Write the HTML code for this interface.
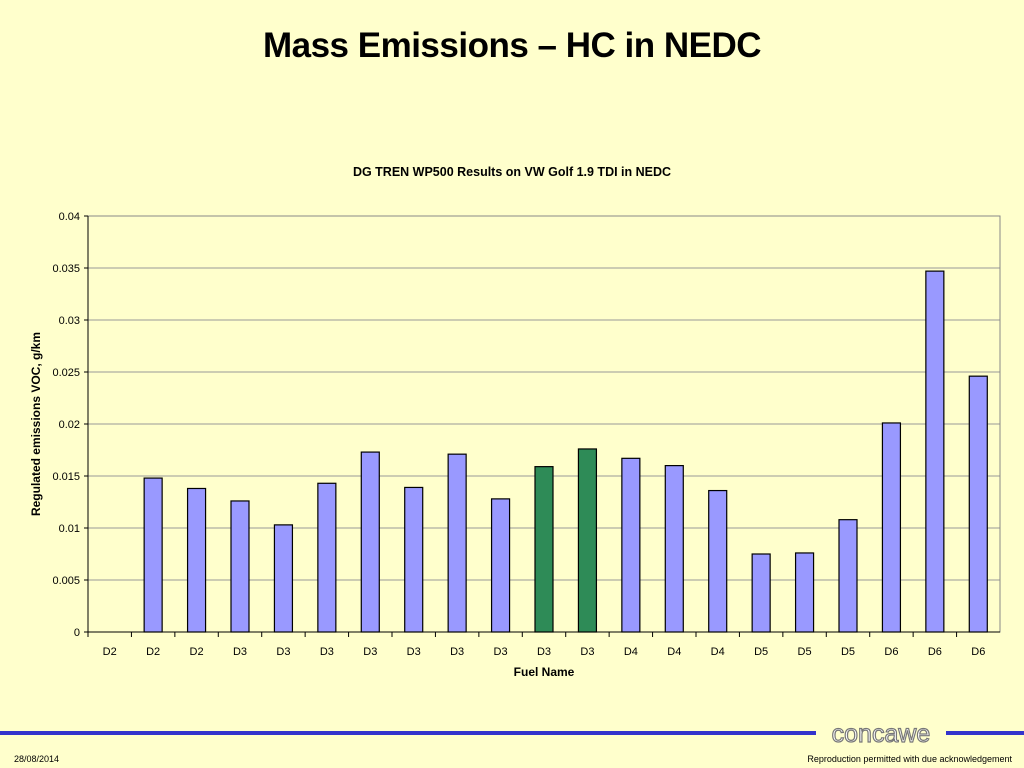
<!DOCTYPE html>
<html><head><meta charset="utf-8"><style>
body{margin:0;width:1024px;height:768px;background:#FFFFCC;overflow:hidden;font-family:"Liberation Sans",Arial,sans-serif;position:relative}
.t{position:absolute;white-space:nowrap}
</style></head><body>
<div class="t" style="left:0;width:1024px;top:26px;text-align:center;font-size:35px;font-weight:bold;letter-spacing:-0.5px">Mass Emissions – HC in NEDC</div>
<svg width="1024" height="768" style="position:absolute;left:0;top:0">
<text x="512" y="176" text-anchor="middle" font-size="12.5" font-weight="bold">DG TREN WP500 Results on VW Golf 1.9 TDI in NEDC</text>
<g id="grid"></g><g id="bars"></g><g id="axes"></g>
<text transform="translate(40,424) rotate(-90)" text-anchor="middle" font-size="12" font-weight="bold">Regulated emissions VOC, g/km</text>
<text x="544" y="676" text-anchor="middle" font-size="12" font-weight="bold">Fuel Name</text>
<rect x="0" y="731" width="1024" height="4" fill="#3333CC"/>
<rect x="816" y="720" width="130" height="24" fill="#FFFFCC"/>
<text x="881" y="742" text-anchor="middle" font-size="25" fill="#fff" stroke="#777" stroke-width="1.2">concawe</text>
<text x="14" y="762" font-size="9">28/08/2014</text>
<text x="1012" y="762" text-anchor="end" font-size="9">Reproduction permitted with due acknowledgement</text>
</svg>
<script>
const categories=["D2","D2","D2","D3","D3","D3","D3","D3","D3","D3","D3","D3","D4","D4","D4","D5","D5","D5","D6","D6","D6"];
const values=[0,0.0148,0.0138,0.0126,0.0103,0.0143,0.0173,0.0139,0.0171,0.0128,0.0159,0.0176,0.0167,0.0160,0.0136,0.0075,0.0076,0.0108,0.0201,0.0347,0.0246];
const highlighted=[10,11];
const yTicks=[0,0.005,0.01,0.015,0.02,0.025,0.03,0.035,0.04];
const yTickLabels=["0","0.005","0.01","0.015","0.02","0.025","0.03","0.035","0.04"];
const X0=88,X1=1000,Y0=632,Y1=216,YMAX=0.04;
const n=categories.length;
const bw=(X1-X0)/n;
const y=v=>Y0-(v/YMAX)*(Y0-Y1);
const x=i=>X0+bw*i;
const NS="http://www.w3.org/2000/svg";
function mk(t,a,p){const e=document.createElementNS(NS,t);for(const k in a)e.setAttribute(k,a[k]);document.getElementById(p).appendChild(e);return e;}
yTicks.forEach((v,i)=>{
 if(v>0){const g=mk("line",{x1:X0,x2:X1,y1:y(v),y2:y(v),stroke:"#999","stroke-width":1},"grid");
 
 }
 const tk=mk("line",{x1:X0-4,x2:X0,y1:y(v),y2:y(v),stroke:"#000"},"axes");
 
 
 const t=mk("text",{x:X0-8,y:y(v)+4,"text-anchor":"end","font-size":11},"axes");t.textContent=yTickLabels[i];
 
 
});
mk("rect",{x:X0,y:Y1,width:X1-X0,height:Y0-Y1,fill:"none",stroke:"#888"},"grid");
categories.forEach((c,i)=>{
 const v=values[i];
 const cx=x(i)+bw/2;
 if(v>0){const r=mk("rect",{x:cx-9,y:y(v),width:18,height:Y0-y(v),fill:highlighted.includes(i)?"#2E8B57":"#9999FF",stroke:"#000","stroke-width":1.2},"bars");
 
 }
 const t=mk("text",{x:cx,y:Y0+23,"text-anchor":"middle","font-size":11},"axes");t.textContent=c;
 
 
 const tk=mk("line",{x1:x(i),x2:x(i),y1:Y0,y2:Y0+5,stroke:"#000"},"axes");
 
 
});
const ax=mk("line",{x1:X0,x2:X1,y1:Y0,y2:Y0,stroke:"#000"},"axes");


const ay=mk("line",{x1:X0,x2:X0,y1:Y1,y2:Y0,stroke:"#000"},"axes");


</script>
</body></html>
